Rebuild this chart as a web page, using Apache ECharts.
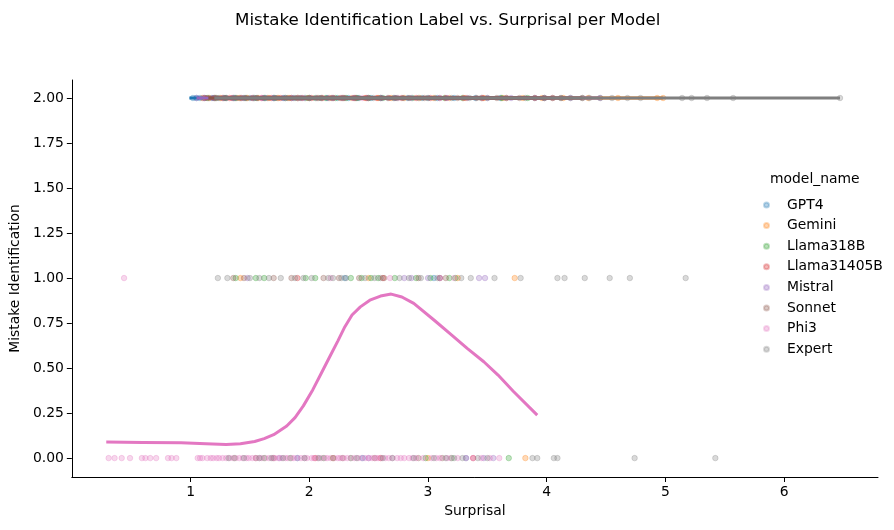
<!DOCTYPE html>
<html>
<head>
<meta charset="utf-8">
<script src="https://cdn.jsdelivr.net/npm/echarts@6/dist/echarts.min.js"></script>
<style>
html, body { margin: 0; padding: 0; background: #fff; }
#chart { width: 894px; height: 530px; }
</style>
</head>
<body>
<div id="chart"></div>
<script>
// model names and colours (same order as the legend)
var models = ['GPT4', 'Gemini', 'Llama318B', 'Llama31405B', 'Mistral', 'Sonnet', 'Phi3', 'Expert'];
var colors = ['31,119,180', '255,127,14', '44,160,44', '214,39,40', '148,103,189', '140,86,75', '227,119,194', '127,127,127'];

// surprisal values of the points, one array per model and label (2, 1, 0)
var gpt4_2 = [1.02,1.05,1.08,1.12,1.18,1.24,1.3,1.37,1.42,1.5,1.56,1.63,1.7,1.78,1.85,1.93,2.0,2.08,2.15,2.24,2.33,2.41,2.52,2.6,2.71,2.83,2.95,3.08,3.22,3.4,3.61,3.9];
var gpt4_1 = [2.3, 3.05];
var gpt4_0 = [1.9, 2.45, 3.32];

var gemini_2 = [1.1,1.16,1.25,1.33,1.41,1.48,1.57,1.66,1.74,1.83,1.9,1.99,2.07,2.17,2.26,2.36,2.47,2.58,2.69,2.8,2.93,3.05,3.18,3.32,3.47,3.63,3.8,3.96,4.14,4.35,4.6,4.93,4.98];
var gemini_1 = [1.42, 2.5, 3.25, 3.73];
var gemini_0 = [2.2, 3.0, 3.82];

var llama318b_2 = [1.14,1.21,1.29,1.38,1.46,1.54,1.62,1.71,1.8,1.88,1.97,2.05,2.14,2.22,2.31,2.4,2.5,2.62,2.74,2.87,3.0,3.14,3.29,3.45,3.62,3.84];
var llama318b_1 = [1.38,1.55,1.62,1.97,2.05,2.35,2.44,2.52,2.58,2.72,2.9,3.02,3.18,3.23];
var llama318b_0 = [1.37,1.62,1.84,2.12,2.35,2.98,3.2,3.68];

var llama31405b_2 = [1.12,1.2,1.27,1.35,1.43,1.52,1.6,1.68,1.76,1.85,1.94,2.02,2.11,2.2,2.29,2.38,2.48,2.57,2.67,2.78,2.9,3.02,3.15,3.3,3.46,3.66,3.9,4.05];
var llama31405b_1 = [1.9, 2.62, 3.1];
var llama31405b_0 = [2.05, 2.6, 3.38];

var mistral_2 = [1.05,1.11,1.19,1.28,1.36,1.45,1.53,1.61,1.7,1.79,1.87,1.96,2.06,2.16,2.27,2.37,2.49,2.61,2.73,2.86,3.0,3.16,3.33,3.5,3.7,3.98,4.2,4.45];
var mistral_1 = [1.48,2.8,2.86,3.0,3.1,3.43,3.48];
var mistral_0 = [1.75,2.5,3.47,3.55];

var sonnet_2 = [1.15,1.22,1.3,1.39,1.47,1.56,1.65,1.73,1.82,1.91,2.0,2.1,2.19,2.28,2.39,2.5,2.6,2.72,2.84,2.97,3.1,3.25,3.41,3.58,3.77,3.98,4.12,4.3];
var sonnet_1 = [1.36,1.45,1.7,1.85,2.12,2.25,2.42,2.63,2.92,3.15];
var sonnet_0 = [1.55,1.7,2.28,2.55,2.92,3.12];

var phi3_2 = [1.33,1.6,1.9,2.2,2.45,2.75,3.1,3.45];
var phi3_1 = [0.44, 2.18, 2.68, 3.22];
var phi3_0 = [0.31,0.36,0.42,0.49,0.59,0.62,0.66,0.71,0.81,0.84,0.88,1.06,1.08,1.1,1.14,1.17,1.19,1.22,1.24,1.27,1.3,1.33,1.36,1.38,1.41,1.44,1.47,1.49,1.52,1.55,1.58,1.6,1.63,1.66,1.69,1.71,1.74,1.77,1.8,1.82,1.85,1.87,1.9,1.93,1.96,1.98,2.02,2.04,2.07,2.1,2.13,2.15,2.18,2.21,2.24,2.26,2.29,2.32,2.35,2.38,2.41,2.44,2.47,2.5,2.53,2.56,2.58,2.61,2.64,2.67,2.7,2.74,2.77,2.8,2.84,2.87,2.9,2.96,3.03,3.07,3.1,3.16,3.19,3.25,3.32,3.38,3.45,3.52,3.6];

var expert_2 = [1.2,1.28,1.36,1.45,1.53,1.62,1.71,1.8,1.9,2.0,2.1,2.2,2.3,2.42,2.54,2.66,2.79,2.92,3.06,3.2,3.35,3.5,3.66,3.82,3.98,4.05,4.12,4.2,4.3,4.36,4.45,4.55,4.68,4.79,5.14,5.22,5.35,5.57,6.47];
var expert_1 = [1.23,1.31,1.5,1.58,1.66,1.76,1.88,1.95,2.02,2.16,2.2,2.27,2.31,2.47,2.55,2.6,2.76,2.84,2.94,3.08,3.28,3.36,3.56,3.78,4.09,4.15,4.32,4.53,4.7,5.17];
var expert_0 = [1.32,1.45,1.58,1.68,1.78,1.96,2.08,2.2,2.4,2.62,2.7,2.88,3.05,3.15,3.22,3.29,3.42,3.5,3.88,3.92,4.06,4.09,4.74,5.42];

// lowess fit lines; flat ones at 2 given by start/end surprisal
var trendStart = [0.99, 1.1, 1.14, 1.12, 1.05, 1.15, null, 1.2];
var trendEnd   = [3.9, 4.98, 3.84, 4.05, 4.45, 4.3, null, 6.47];
var phi3Trend = [[0.29,0.089],[0.6,0.087],[0.92,0.085],[1.13,0.08],[1.3,0.076],[1.42,0.08],[1.54,0.092],[1.62,0.108],[1.7,0.13],[1.81,0.178],[1.88,0.225],[1.95,0.29],[2.03,0.38],[2.1,0.47],[2.17,0.56],[2.24,0.65],[2.3,0.73],[2.36,0.795],[2.43,0.84],[2.51,0.877],[2.6,0.9],[2.69,0.911],[2.78,0.895],[2.88,0.859],[3.05,0.767],[3.2,0.683],[3.33,0.609],[3.47,0.535],[3.59,0.461],[3.72,0.37],[3.92,0.239]];

var xTicks = [1, 2, 3, 4, 5, 6];
var yTicks = [0, 0.25, 0.5, 0.75, 1, 1.25, 1.5, 1.75, 2];

var points = [
	[gpt4_2, gpt4_1, gpt4_0],
	[gemini_2, gemini_1, gemini_0],
	[llama318b_2, llama318b_1, llama318b_0],
	[llama31405b_2, llama31405b_1, llama31405b_0],
	[mistral_2, mistral_1, mistral_0],
	[sonnet_2, sonnet_1, sonnet_0],
	[phi3_2, phi3_1, phi3_0],
	[expert_2, expert_1, expert_0]
];

var FONT = 'DejaVu Sans';
var series = [];
var legendData = [];
models.forEach(function (m, i) {
	var data = [];
	[2, 1, 0].forEach(function (lab, k) {
		points[i][k].forEach(function (x) { data.push([x, lab]); });
	});
	var fill = 'rgba(' + colors[i] + ',0.36)';
	series.push({
		name: m,
		type: 'scatter',
		data: data,
		symbolSize: 5.5,
		itemStyle: { color: fill, borderColor: fill, borderWidth: 1 }
	});
	legendData.push({ name: m, itemStyle: { color: 'rgba(' + colors[i] + ',0.4)' } });
	var line = m == 'Phi3' ? phi3Trend : [[trendStart[i], 2], [trendEnd[i], 2]];
	series.push({
		name: m + ' lowess',
		type: 'line',
		data: line,
		showSymbol: false,
		symbol: 'none',
		lineStyle: { color: 'rgb(' + colors[i] + ')', width: 3 }
	});
});

var myChart = echarts.init(document.getElementById('chart'));
var option = {
	animation: false,
	backgroundColor: '#fff',
	textStyle: { fontFamily: FONT },
	title: {
		text: 'Mistake Identification Label vs. Surprisal per Model',
		left: 230,
		top: 7,
		textStyle: { fontFamily: FONT, fontSize: 16.7, fontWeight: 'normal', color: '#000' }
	},
	legend: {
		orient: 'vertical',
		left: 758,
		top: 193,
		icon: 'circle',
		itemWidth: 5,
		itemHeight: 14,
		itemGap: 6.6,
		data: legendData,
		textStyle: { fontFamily: FONT, fontSize: 13.9, color: '#000', padding: [0, 0, 0, 13] }
	},
	graphic: [{
		type: 'text',
		left: 770,
		top: 172,
		style: { text: 'model_name', font: '13.9px "DejaVu Sans"', fill: '#000' }
	}],
	grid: { left: 70, right: 16, top: 80, bottom: 53 },
	xAxis: {
		type: 'value',
		min: 0,
		max: 6.79,
		name: 'Surprisal',
		nameLocation: 'middle',
		nameGap: 27,
		nameTextStyle: { fontFamily: FONT, fontSize: 13.9, color: '#000' },
		axisLine: { onZero: false, lineStyle: { color: '#000', width: 1 } },
		axisTick: { customValues: xTicks, length: 5, lineStyle: { color: '#000' } },
		axisLabel: { customValues: xTicks, margin: 8, fontSize: 13.9, color: '#000', fontFamily: FONT },
		splitLine: { show: false }
	},
	yAxis: {
		type: 'value',
		min: -0.105,
		max: 2.1,
		name: 'Mistake Identification',
		nameLocation: 'middle',
		nameGap: 45,
		nameTextStyle: { fontFamily: FONT, fontSize: 13.9, color: '#000' },
		axisLine: { show: true, onZero: false, lineStyle: { color: '#000', width: 1 } },
		axisTick: { show: true, customValues: yTicks, length: 5, lineStyle: { color: '#000' } },
		axisLabel: {
			customValues: yTicks, margin: 8, fontSize: 13.9, color: '#000', fontFamily: FONT,
			formatter: function (v) { return v.toFixed(2); }
		},
		splitLine: { show: false }
	},
	series: series
};
myChart.setOption(option, true);
</script>
</body>
</html>
